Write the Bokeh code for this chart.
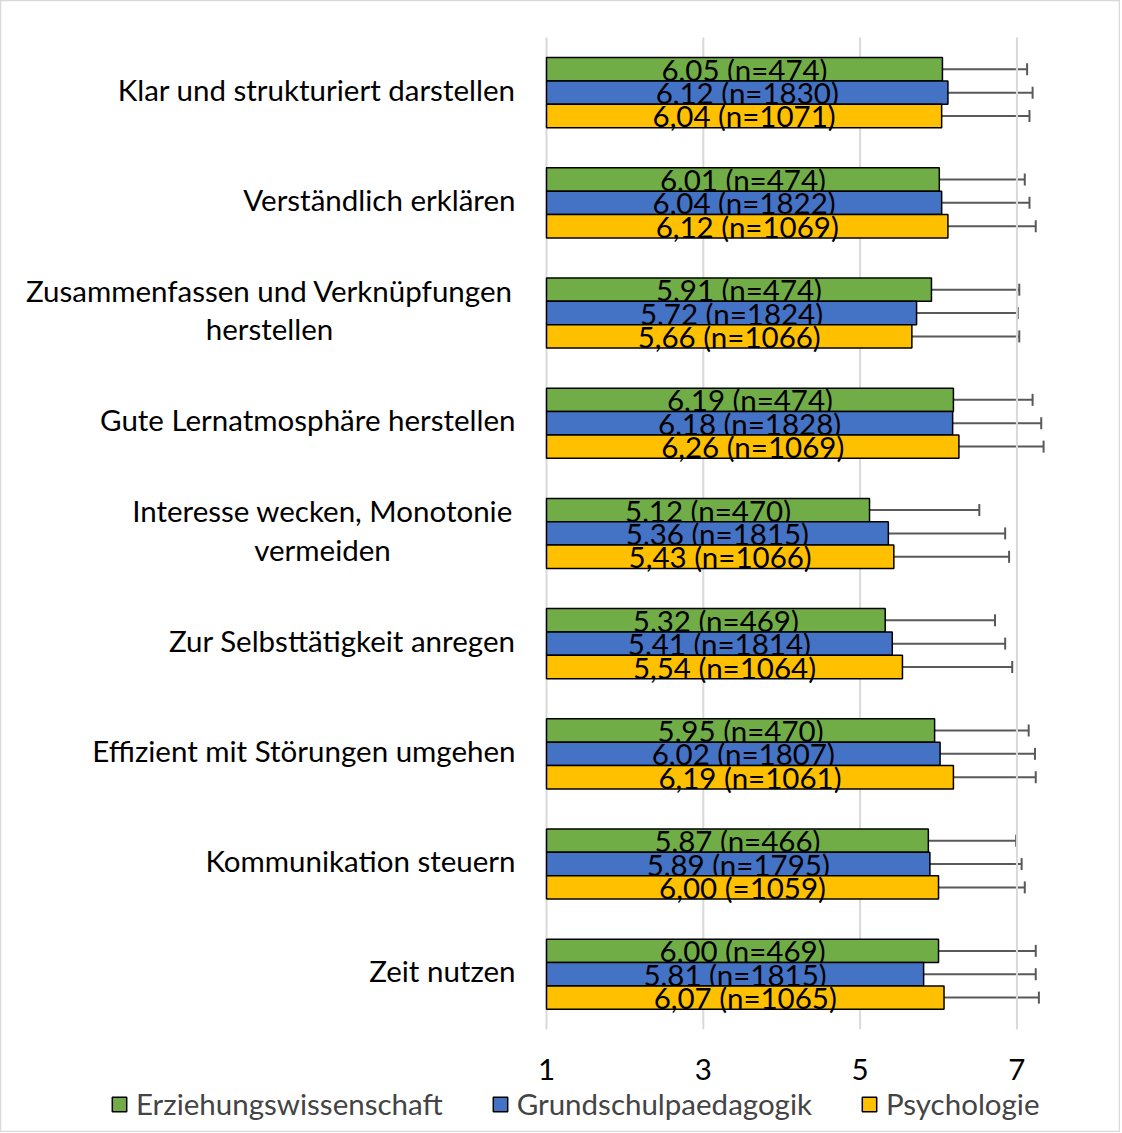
from bokeh.plotting import figure
from bokeh.models import (ColumnDataSource, Range1d, Whisker, TeeHead,
                          Legend, LegendItem)
from bokeh.core.properties import value
from bokeh.embed import file_html
from bokeh.resources import INLINE

categories = [
    "Klar und strukturiert darstellen",
    "Verständlich erklären",
    "Zusammenfassen und Verknüpfungen\nherstellen",
    "Gute Lernatmosphäre herstellen",
    "Interesse wecken, Monotonie\nvermeiden",
    "Zur Selbsttätigkeit anregen",
    "Effizient mit Störungen umgehen",
    "Kommunikation steuern",
    "Zeit nutzen",
]
series_names = ["Erziehungswissenschaft", "Grundschulpaedagogik", "Psychologie"]

ezw_mean = [6.05, 6.01, 5.91, 6.19, 5.12, 5.32, 5.95, 5.87, 6.00]
ezw_n = [474, 474, 474, 474, 470, 469, 470, 466, 469]
ezw_sd = [1.08, 1.09, 1.12, 1.01, 1.40, 1.40, 1.20, 1.12, 1.24]

gsp_mean = [6.12, 6.04, 5.72, 6.18, 5.36, 5.41, 6.02, 5.89, 5.81]
gsp_n = [1830, 1822, 1824, 1828, 1815, 1814, 1807, 1795, 1815]
gsp_sd = [1.08, 1.12, 1.29, 1.13, 1.49, 1.44, 1.21, 1.17, 1.43]

psy_mean = [6.04, 6.12, 5.66, 6.26, 5.43, 5.54, 6.19, 6.00, 6.07]
psy_n = [1071, 1069, 1066, 1069, 1066, 1064, 1061, 1059, 1065]
psy_sd = [1.12, 1.12, 1.37, 1.08, 1.47, 1.40, 1.05, 1.10, 1.21]

x_ticks = [1, 3, 5, 7]
x_tick_labels = ["1", "3", "5", "7"]

colors = ["#70AD47", "#4472C4", "#FFC000"]
FONT = "Lato"
FS = "29.5px"

n_cat = len(categories)

# The frame covers the whole canvas; ranges are chosen so that the value axis
# starts at 1 where the bars begin and category rows are stacked from the top.
p = figure(width=1120, height=1132, output_backend="svg", toolbar_location=None,
           x_range=Range1d(-5.964, 8.321), y_range=Range1d(9.936, -0.336),
           min_border=0, min_border_left=0, min_border_right=0,
           min_border_top=0, min_border_bottom=0)
p.xaxis.visible = False
p.yaxis.visible = False
p.xgrid.visible = False
p.ygrid.visible = False
p.outline_line_color = "#d9d9d9"
p.outline_line_width = 1.5

# vertical gridlines at the value ticks, spanning the category area only
p.segment(x0=x_ticks, y0=[0] * len(x_ticks), x1=x_ticks, y1=[n_cat] * len(x_ticks),
          line_color="#d9d9d9", line_width=2)
# value tick labels below the plotting area
p.text(x=x_ticks, y=[n_cat + 0.365] * len(x_ticks), text=x_tick_labels,
       text_align="center", text_baseline="middle", text_font=value(FONT),
       text_font_size=FS, text_color="black")

bar_h = 0.212
offsets = [-bar_h, 0.0, bar_h]
renderers = []
for k, (means, ns, sds) in enumerate([(ezw_mean, ezw_n, ezw_sd),
                                      (gsp_mean, gsp_n, gsp_sd),
                                      (psy_mean, psy_n, psy_sd)]):
    ys = [i + 0.5 + offsets[k] for i in range(n_cat)]
    labels = [f"{m:.2f}".replace(".", ",") + f" (n={n})" for m, n in zip(means, ns)]
    if k == 2:
        labels[7] = labels[7].replace("(n=", "(=")
    src = ColumnDataSource(dict(
        y=ys, mean=means,
        mid=[(1 + m) / 2 for m in means],
        lower=[m - s for m, s in zip(means, sds)],
        upper=[m + s for m, s in zip(means, sds)],
        label=labels,
    ))
    r = p.hbar(y="y", left=1, right="mean", height=bar_h, source=src,
               fill_color=colors[k], line_color="black", line_width=1.5)
    renderers.append(r)
    w = Whisker(base="y", lower="lower", upper="upper", dimension="width", source=src,
                line_color="#595959", line_width=2,
                lower_head=TeeHead(size=12, line_color="#595959", line_width=2),
                upper_head=TeeHead(size=12, line_color="#595959", line_width=2))
    p.add_layout(w)
    p.text(x="mid", y="y", text="label", source=src, text_align="center",
           text_baseline="middle", text_font=value(FONT), text_font_size=FS,
           text_color="black")

# category labels: single-line right aligned, two-line labels centred
single_x, single_y, single_t = [], [], []
multi_x, multi_y, multi_t = [], [], []
multi_centers = {2: -2.533, 4: -1.857}
for i, c in enumerate(categories):
    if "\n" in c:
        multi_x.append(multi_centers[i]); multi_y.append(i + 0.47); multi_t.append(c)
    else:
        single_x.append(0.605); single_y.append(i + 0.47); single_t.append(c)
p.text(x=single_x, y=single_y, text=single_t, text_align="right", text_baseline="middle",
       text_font=value(FONT), text_font_size=FS, text_color="black")
p.text(x=multi_x, y=multi_y, text=multi_t, text_align="center", text_baseline="middle",
       text_font=value(FONT), text_font_size=FS, text_color="black",
       text_line_height=1.1)

legend = Legend(items=[LegendItem(label=n, renderers=[r]) for n, r in zip(series_names, renderers)],
                orientation="horizontal", location=(110, 11),
                label_text_font=FONT, label_text_font_size=FS,
                glyph_width=18, glyph_height=18, spacing=48, label_standoff=8,
                padding=2, margin=0, border_line_color=None, background_fill_alpha=0)
p.add_layout(legend, "center")

open("out.html", "w").write(file_html(p, INLINE))
